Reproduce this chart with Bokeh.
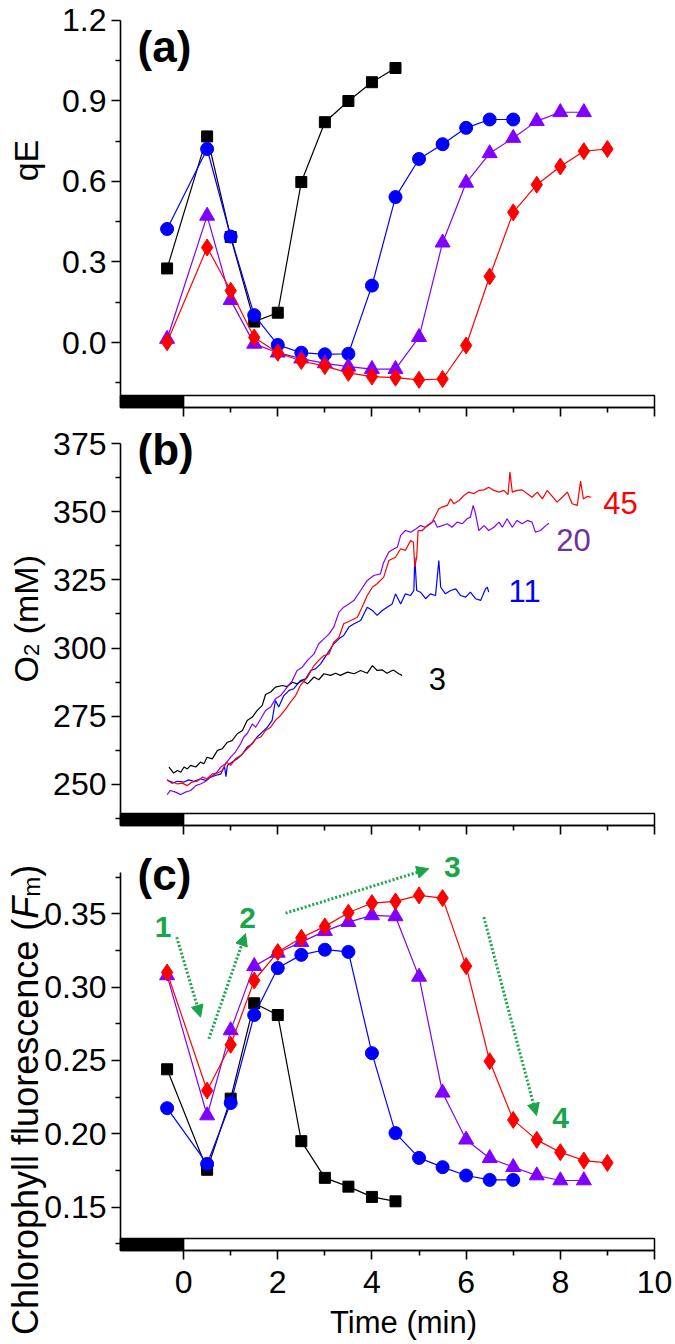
import math
from bokeh.plotting import figure
from bokeh.layouts import column
from bokeh.models import Range1d, FixedTicker, Label, Arrow, NormalHead, NumeralTickFormatter, LinearAxis
from bokeh.embed import file_html
from bokeh.resources import INLINE

# ---------------- data ----------------
# sample times (min) for qE and fluorescence series
t_black = [-0.35, 0.5, 1.0, 1.5, 2.0, 2.5, 3.0, 3.5, 4.0, 4.5]
t_blue = [-0.35, 0.5, 1.0, 1.5, 2.0, 2.5, 3.0, 3.5, 4.0, 4.5, 5.0, 5.5, 6.0, 6.5, 7.0]
t_purple = [-0.35, 0.5, 1.0, 1.5, 2.0, 2.5, 3.0, 3.5, 4.0, 4.5, 5.0, 5.5, 6.0, 6.5, 7.0, 7.5, 8.0, 8.5]
t_red = [-0.35, 0.5, 1.0, 1.5, 2.0, 2.5, 3.0, 3.5, 4.0, 4.5, 5.0, 5.5, 6.0, 6.5, 7.0, 7.5, 8.0, 8.5, 9.0]

# (a) qE
qe_black = [0.276, 0.768, 0.393, 0.078, 0.111, 0.598, 0.821, 0.900, 0.970, 1.023]
qe_blue = [0.423, 0.721, 0.395, 0.102, -0.009, -0.038, -0.044, -0.042, 0.212, 0.542,
           0.684, 0.739, 0.800, 0.831, 0.831]
qe_purple = [0.013, 0.472, 0.158, -0.005, -0.038, -0.060, -0.078, -0.090, -0.099, -0.099,
             0.020, 0.372, 0.595, 0.705, 0.762, 0.825, 0.858, 0.858]
qe_red = [0.001, 0.354, 0.193, 0.019, -0.038, -0.069, -0.088, -0.113, -0.127, -0.131,
          -0.139, -0.136, -0.011, 0.246, 0.485, 0.588, 0.656, 0.713, 0.721]

# (c) chlorophyll fluorescence
fl_black = [0.244, 0.1755, 0.224, 0.289, 0.281, 0.195, 0.170, 0.164, 0.157, 0.154]
fl_blue = [0.2175, 0.1795, 0.221, 0.281, 0.313, 0.322, 0.3255, 0.324, 0.255, 0.2005,
           0.1836, 0.1773, 0.1716, 0.1686, 0.1686]
fl_purple = [0.308, 0.2125, 0.2705, 0.3143, 0.3234, 0.3307, 0.3382, 0.3443, 0.3489, 0.3482,
             0.307, 0.228, 0.196, 0.1834, 0.1773, 0.1716, 0.1682, 0.1682]
fl_red = [0.310, 0.2295, 0.2607, 0.3045, 0.3239, 0.3336, 0.3414, 0.3507, 0.3573, 0.3584,
          0.3625, 0.3607, 0.3143, 0.2495, 0.2095, 0.1959, 0.1875, 0.1818, 0.1802]

# (b) O2 traces
o2_t_black = [-0.31, -0.21, -0.13, -0.06, 0.01, 0.08, 0.15, 0.26, 0.36, 0.43,
              0.50, 0.61, 0.72, 0.82, 0.93, 1.03, 1.14, 1.25, 1.35, 1.46,
              1.56, 1.67, 1.74, 1.85, 1.95, 2.10, 2.20, 2.31, 2.41, 2.52,
              2.63, 2.77, 2.87, 2.98, 3.12, 3.23, 3.33, 3.48, 3.62, 3.76,
              3.90, 4.01, 4.11, 4.22, 4.32, 4.43, 4.47, 4.57, 4.64]
o2_black = [256.4, 254.2, 255.1, 254.5, 256.4, 255.7, 257.0, 256.4, 258.2, 257.6,
            260.0, 259.4, 262.5, 263.1, 265.5, 266.1, 268.6, 269.8, 273.5, 274.7,
            277.1, 279.0, 283.0, 283.9, 285.7, 286.3, 285.9, 287.5, 286.9, 288.1,
            286.9, 289.4, 288.4, 290.6, 290.0, 290.8, 290.0, 291.2, 290.6, 291.8,
            290.8, 293.6, 291.8, 292.0, 290.8, 291.8, 291.8, 290.6, 290.0]

o2_t_blue = [-0.35, -0.24, -0.13, 0.01, 0.11, 0.22, 0.36, 0.47, 0.57, 0.68,
             0.79, 0.87, 0.90, 0.93, 1.03, 1.14, 1.25, 1.35, 1.46, 1.56,
             1.67, 1.78, 1.88, 1.95, 2.02, 2.13, 2.24, 2.34, 2.48, 2.59,
             2.70, 2.80, 2.91, 3.05, 3.19, 3.30, 3.40, 3.51, 3.62, 3.76,
             3.90, 4.01, 4.11, 4.22, 4.32, 4.43, 4.50, 4.61, 4.71, 4.82,
             4.89, 4.91, 4.95, 5.03, 5.14, 5.24, 5.35, 5.42, 5.46, 5.56,
             5.67, 5.78, 5.88, 5.99, 6.09, 6.20, 6.31, 6.41, 6.45, 6.48]
o2_blue = [251.7, 250.5, 251.2, 250.9, 251.7, 251.2, 252.1, 251.5, 252.7, 253.3,
           253.9, 256.6, 252.9, 257.0, 258.2, 259.4, 261.2, 263.7, 264.9, 267.4,
           269.2, 271.0, 273.5, 280.8, 278.4, 282.6, 284.5, 285.1, 288.1, 288.7,
           291.8, 292.4, 294.2, 297.9, 301.6, 303.4, 304.6, 307.7, 308.9, 310.1,
           315.0, 313.8, 312.0, 313.8, 315.0, 316.2, 319.9, 316.2, 319.9, 319.3,
           321.1, 333.3, 321.1, 320.5, 318.1, 319.9, 319.3, 332.1, 322.3, 319.9,
           321.1, 321.7, 319.3, 318.7, 320.5, 318.1, 317.5, 321.7, 322.3, 320.5]

o2_t_purple = [-0.35, -0.28, -0.17, -0.06, 0.04, 0.15, 0.26, 0.36, 0.47, 0.57,
               0.68, 0.79, 0.89, 1.00, 1.10, 1.21, 1.28, 1.35, 1.46, 1.53,
               1.64, 1.74, 1.85, 1.95, 2.06, 2.20, 2.31, 2.41, 2.52, 2.63,
               2.77, 2.87, 2.98, 3.09, 3.19, 3.30, 3.40, 3.51, 3.62, 3.76,
               3.90, 4.04, 4.18, 4.25, 4.36, 4.47, 4.54, 4.61, 4.71, 4.82,
               4.93, 5.03, 5.14, 5.24, 5.32, 5.39, 5.49, 5.60, 5.70, 5.81,
               5.92, 6.02, 6.09, 6.15, 6.20, 6.27, 6.38, 6.48, 6.59, 6.70,
               6.77, 6.87, 6.98, 7.08, 7.19, 7.30, 7.40, 7.47, 7.58, 7.69, 7.76]
o2_purple = [246.3, 247.8, 247.2, 246.3, 247.2, 247.8, 249.6, 250.2, 251.2, 252.7,
             253.9, 256.4, 257.6, 260.0, 261.9, 264.9, 267.4, 268.6, 272.2, 271.0,
             274.1, 277.1, 278.4, 281.4, 282.6, 285.7, 288.1, 291.8, 293.0, 295.5,
             297.9, 301.6, 303.4, 305.2, 307.7, 313.2, 315.0, 316.2, 317.5, 321.1,
             324.8, 326.6, 327.2, 331.5, 335.2, 336.4, 337.0, 341.3, 343.1, 342.5,
             343.7, 344.9, 344.3, 345.6, 346.8, 344.3, 344.9, 345.6, 344.3, 346.2,
             345.6, 347.4, 348.0, 352.3, 349.2, 343.1, 344.9, 343.1, 344.3, 346.2,
             344.3, 347.4, 344.3, 346.8, 345.6, 346.8, 346.2, 342.5, 343.1, 344.9, 345.8]

o2_t_red = [-0.35, -0.24, -0.13, -0.03, 0.08, 0.18, 0.29, 0.40, 0.50, 0.61,
            0.72, 0.82, 0.91, 1.00, 1.10, 1.21, 1.32, 1.42, 1.53, 1.64,
            1.74, 1.85, 1.95, 2.06, 2.17, 2.27, 2.38, 2.48, 2.63, 2.77,
            2.87, 2.98, 3.09, 3.19, 3.30, 3.40, 3.55, 3.69, 3.79, 3.90,
            4.01, 4.11, 4.25, 4.36, 4.50, 4.61,
            4.71, 4.82, 4.88, 4.91, 4.95, 4.98, 5.07, 5.17, 5.28, 5.35,
            5.42, 5.49, 5.60, 5.67, 5.74, 5.85, 5.95, 6.06, 6.16, 6.27,
            6.38, 6.48, 6.59, 6.70, 6.80, 6.89, 6.93, 6.98, 7.08, 7.19,
            7.30, 7.40, 7.51, 7.62, 7.72, 7.83, 7.93, 8.04, 8.15, 8.25,
            8.36, 8.43, 8.49, 8.57, 8.66]
o2_red = [251.5, 250.9, 250.2, 250.5, 249.6, 250.9, 251.2, 252.7, 252.1, 253.9,
          254.2, 255.1, 258.2, 257.0, 259.4, 260.6, 262.5, 264.3, 266.7, 267.4,
          269.8, 271.0, 273.5, 275.3, 277.7, 280.2, 282.6, 286.3, 289.3, 293.6,
          295.5, 297.3, 297.9, 302.2, 304.0, 308.9, 310.1, 311.3, 315.0, 319.3,
          322.3, 323.6, 326.0, 332.1, 333.3, 336.4,
          335.8, 339.4, 338.8, 329.7, 333.3, 343.1, 343.1, 344.9, 346.2, 348.6,
          351.1, 351.7, 352.3, 354.7, 352.9, 354.1, 355.9, 357.2, 356.6, 357.8,
          358.0, 359.0, 357.8, 357.2, 357.8, 356.3, 364.5, 357.2, 357.8, 358.0,
          356.6, 355.3, 357.2, 354.7, 357.8, 355.6, 353.5, 355.3, 357.2, 352.9,
          352.3, 361.2, 354.7, 355.6, 355.3]

# trace end labels (light intensity)
o2_labels = ["3", "11", "20", "45"]
o2_label_x = [5.39, 7.24, 8.28, 9.28]
o2_label_y = [288.8, 321.1, 339.8, 353.3]
o2_label_colors = ["black", "#0000ff", "#7030a0", "#ff0000"]

# phase arrows in (c)
arrow_x0 = [-0.146, 0.537, 2.166, 6.376]
arrow_y0 = [0.3340, 0.2648, 0.3504, 0.3477]
arrow_x1 = [0.361, 1.316, 5.208, 7.495]
arrow_y1 = [0.2795, 0.3364, 0.3807, 0.2125]
phase_labels = ["1", "2", "3", "4"]
phase_x = [-0.435, 1.359, 5.705, 8.004]
phase_y = [0.3407, 0.3471, 0.3816, 0.2108]

# x-axis ticks, dark/light bar
x_major = [0, 2, 4, 6, 8, 10]
x_minor = [1, 3, 5, 7, 9]
X0, X1 = -1.34, 10.0
bar_left = [X0, 0]
bar_right = [0, X1]
bar_colors = ["black", "white"]

# ---------------- styling ----------------
FONT = "Liberation Sans"
BLACK, BLUE, PURPLE, RED = "#000000", "#0000ff", "#8000ff", "#ff0000"
GREEN = "#1aa54b"
W_FIG = 675
XR = (-3.888, 10.446)   # canvas-wide x range (axis drawn at X0)
TICK_FS = "32px"

ARIAL_W = {'C': 722, 'h': 556, 'l': 222, 'o': 556, 'r': 333, 'p': 556, 'y': 500, ' ': 278,
           'f': 278, 'u': 556, 'e': 556, 's': 500, 'c': 500, 'n': 556, '(': 333, ')': 333,
           'F': 611, 'm': 833, 'M': 833, 'O': 778, '2': 556, 'q': 556, 'E': 667}


def tw(s, size):
    return sum(ARIAL_W[c] for c in s) * size / 1000.0


def style_axis(ax):
    ax.axis_line_width = 1.6
    ax.axis_line_color = "black"
    ax.major_tick_line_width = 1.6
    ax.minor_tick_line_width = 1.6
    ax.major_tick_line_color = "black"
    ax.minor_tick_line_color = "black"
    ax.major_tick_in = 0
    ax.major_tick_out = 9
    ax.minor_tick_in = 0
    ax.minor_tick_out = 5
    ax.major_label_text_font = FONT
    ax.major_label_text_font_size = TICK_FS
    ax.major_label_text_color = "black"


def make_fig(h, yr, ybounds, bar_h, yticks, yminor, yfmt, show_x):
    p = figure(width=W_FIG, height=h, x_range=Range1d(*XR), y_range=Range1d(*yr),
               output_backend="svg", toolbar_location=None,
               x_axis_location=None, y_axis_location=None,
               min_border=0, min_border_left=0, min_border_right=0,
               min_border_top=0, min_border_bottom=0)
    p.outline_line_color = None
    p.grid.visible = False
    ya = LinearAxis(fixed_location=X0, bounds=ybounds,
                    ticker=FixedTicker(ticks=yticks, minor_ticks=yminor),
                    formatter=NumeralTickFormatter(format=yfmt))
    style_axis(ya)
    ya.major_label_standoff = 5
    xa = LinearAxis(fixed_location=ybounds[0], bounds=(X0, X1),
                    ticker=FixedTicker(ticks=x_major, minor_ticks=x_minor))
    style_axis(xa)
    xa.major_label_standoff = 12
    if not show_x:
        xa.major_label_overrides = {t: "" for t in x_major}
    p.add_layout(ya, "left")
    p.add_layout(xa, "below")
    y0 = ybounds[0]
    p.quad(left=bar_left, right=bar_right, bottom=[y0, y0], top=[y0 + bar_h, y0 + bar_h],
           fill_color=bar_colors, line_color="black", line_width=1.5)
    return p


def series(p, t, v, color, marker, size):
    p.line(t, v, line_color=color, line_width=1.2)
    p.scatter(t, v, marker=marker, size=size, fill_color=color, line_color=color)


def panel_label(p, x, y, txt):
    p.add_layout(Label(x=x, y=y, text=txt, text_font=FONT, text_font_size="44px",
                       text_font_style="bold", text_align="left", text_baseline="middle",
                       text_color="black"))


def vlabel(p, x, y, pieces):
    """pieces: (text, size, style, dx, extra gap before)"""
    off = 0.0
    for txt, size, style, dx, gap in pieces:
        off += gap
        p.add_layout(Label(x=x, y=y, x_offset=dx, y_offset=off, text=txt, angle=math.pi / 2,
                           text_font=FONT, text_font_size=f"{size}px", text_font_style=style,
                           text_align="left", text_baseline="alphabetic", text_color="black"))
        off += tw(txt, size)


LABEL_X = -3.35
PANEL_X = -0.977

# ---- (a) ----
pa = make_fig(425, (-0.3093, 1.2745), (-0.2422, 1.2), 0.0447, [0, 0.3, 0.6, 0.9, 1.2],
              [-0.15, 0.15, 0.45, 0.75, 1.05], "0.0", False)
series(pa, t_black, qe_black, BLACK, "square", 11)
series(pa, t_blue, qe_blue, BLUE, "circle", 13)
series(pa, t_purple, qe_purple, PURPLE, "triangle", 15)
series(pa, t_red, qe_red, RED, "diamond", 17)
panel_label(pa, PANEL_X, 1.103, "(a)")
pa.add_layout(Label(x=LABEL_X, y=0.678, text="qE", angle=math.pi / 2, text_font=FONT,
                    text_font_size="34px", text_align="center", text_baseline="alphabetic",
                    text_color="black"))

# ---- (b) ----
pb = make_fig(418, (228.37, 381.60), (234.97, 375), 4.4, [250, 275, 300, 325, 350, 375],
              [237.5, 262.5, 287.5, 312.5, 337.5, 362.5], "0", False)
pb.line(o2_t_black, o2_black, line_color=BLACK, line_width=1.2)
pb.line(o2_t_blue, o2_blue, line_color=BLUE, line_width=1.2)
pb.line(o2_t_purple, o2_purple, line_color=PURPLE, line_width=1.2)
pb.line(o2_t_red, o2_red, line_color=RED, line_width=1.2)
for txt, x, y, c in zip(o2_labels, o2_label_x, o2_label_y, o2_label_colors):
    pb.add_layout(Label(x=x, y=y, text=txt, text_font=FONT, text_font_size="31px",
                        text_align="center", text_baseline="middle", text_color=c))
panel_label(pb, PANEL_X, 372.8, "(b)")
vlabel(pb, LABEL_X, 287.4, [("O", 34, "normal", 0, 0), ("2", 22, "normal", 6, 0),
                            ("(mM)", 34, "normal", 0, tw(" ", 34))])

# ---- (c) ----
pc = make_fig(500, (0.05709, 0.3979), (0.1205, 0.3782), 0.0082, [0.15, 0.20, 0.25, 0.30, 0.35],
              [0.125, 0.175, 0.225, 0.275, 0.325, 0.375], "0.00", True)
series(pc, t_black, fl_black, BLACK, "square", 11)
series(pc, t_blue, fl_blue, BLUE, "circle", 13)
series(pc, t_purple, fl_purple, PURPLE, "triangle", 15)
series(pc, t_red, fl_red, RED, "diamond", 17)
for xs, ys, xe, ye in zip(arrow_x0, arrow_y0, arrow_x1, arrow_y1):
    pc.add_layout(Arrow(end=NormalHead(size=12, fill_color=GREEN, line_color=GREEN, line_width=1),
                        x_start=xs, y_start=ys, x_end=xe, y_end=ye,
                        line_color=GREEN, line_width=3, line_dash="2 2"))
for txt, x, y in zip(phase_labels, phase_x, phase_y):
    pc.add_layout(Label(x=x, y=y, text=txt, text_font=FONT, text_font_size="30px",
                        text_font_style="bold", text_align="center", text_baseline="middle",
                        text_color=GREEN))
panel_label(pc, PANEL_X, 0.3768, "(c)")
vlabel(pc, LABEL_X, 0.0629, [("Chlorophyll fluorescence (", 36, "normal", 0, 0),
                             ("F", 36, "italic", 0, 0), ("m", 24, "normal", 6, 0),
                             (")", 36, "normal", 0, 0)])
pc.add_layout(Label(x=4.67, y=0.0717, text="Time (min)", text_font=FONT, text_font_size="31px",
                    text_align="center", text_baseline="middle", text_color="black"))

layout = column(pa, pb, pc, spacing=0)
open("out.html", "w").write(file_html(layout, INLINE))
